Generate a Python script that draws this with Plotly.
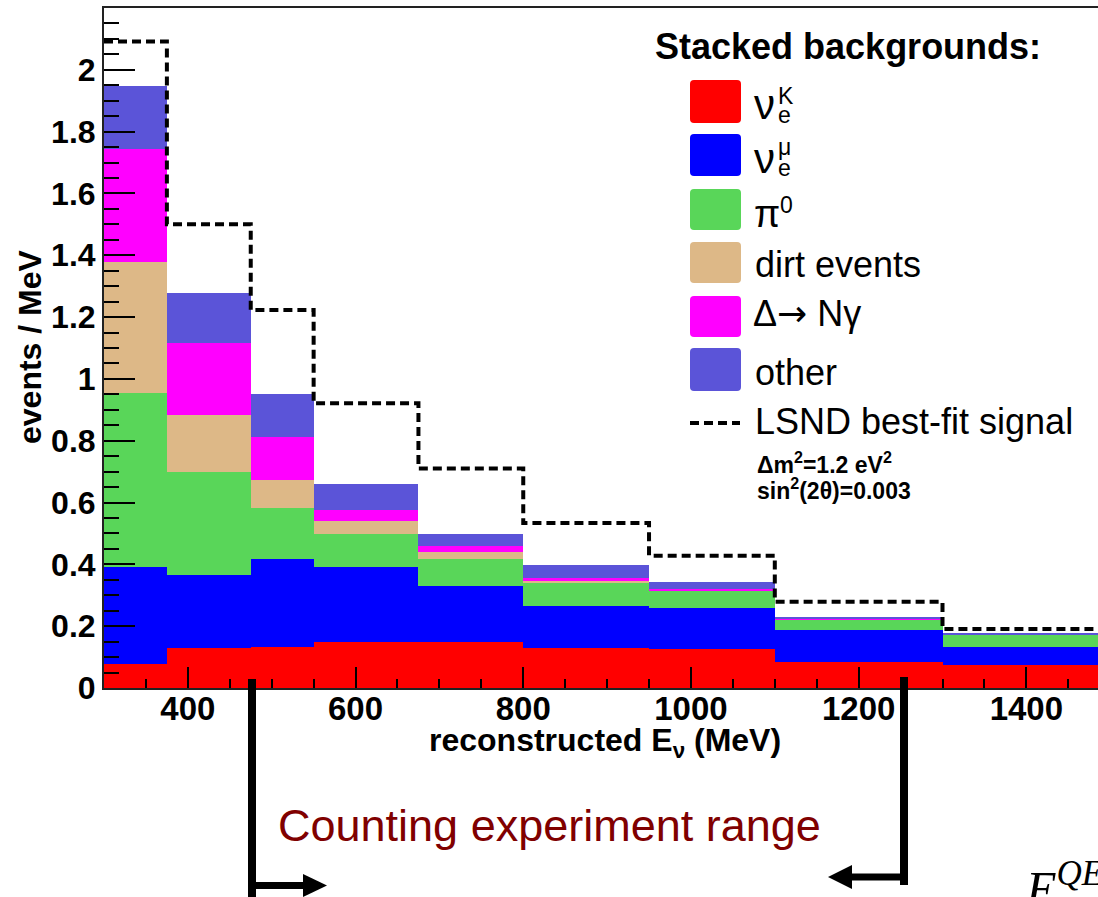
import plotly.graph_objects as go

# ---------------- data (events / MeV per bin) ----------------
bin_edges = [300, 375, 475, 550, 675, 800, 950, 1100, 1300, 1500]
nue_K      = [0.077, 0.128, 0.132, 0.150, 0.150, 0.131, 0.126, 0.084, 0.073]
nue_mu     = [0.313, 0.238, 0.285, 0.242, 0.181, 0.133, 0.133, 0.103, 0.061]
pi0        = [0.566, 0.334, 0.166, 0.105, 0.086, 0.076, 0.055, 0.036, 0.038]
dirt       = [0.423, 0.184, 0.090, 0.044, 0.022, 0.009, 0.002, 0.000, 0.000]
delta_ng   = [0.366, 0.231, 0.139, 0.036, 0.021, 0.006, 0.003, 0.002, 0.001]
other      = [0.203, 0.162, 0.138, 0.083, 0.039, 0.042, 0.023, 0.003, 0.004]
lsnd_total = [2.092, 1.500, 1.223, 0.921, 0.710, 0.534, 0.428, 0.279, 0.191]
y_tick_vals = [0, 0.2, 0.4, 0.6, 0.8, 1, 1.2, 1.4, 1.6, 1.8, 2]
x_tick_vals = [400, 600, 800, 1000, 1200, 1400]

series = [
    ("nue_K", nue_K, "#ff0000"),
    ("nue_mu", nue_mu, "#0000ff"),
    ("pi0", pi0, "#59d659"),
    ("dirt", dirt, "#ddb887"),
    ("delta", delta_ng, "#ff00ff"),
    ("other", other, "#5b54d8"),
]

centers = [(a + b) / 2 for a, b in zip(bin_edges[:-1], bin_edges[1:])]
widths = [b - a for a, b in zip(bin_edges[:-1], bin_edges[1:])]

# ---------------- figure geometry ----------------
W_FIG, H_FIG = 1098, 897
L, T = 104, 8
PW, PH = W_FIG - L, 680

def PX(px):
    return (px - L) / PW

def PY(py):
    return (T + PH - py) / PH

fig = go.Figure()
for name, vals, col in series:
    fig.add_trace(go.Bar(x=centers, y=vals, width=widths, name=name,
                         marker=dict(color=col, line=dict(width=0)),
                         showlegend=False, hoverinfo="skip"))

fig.add_trace(go.Scatter(x=bin_edges, y=lsnd_total + [lsnd_total[-1]],
                         mode="lines", line=dict(shape="hv", color="black", width=4, dash="9px,5px"),
                         showlegend=False, hoverinfo="skip"))

FONT = "Liberation Sans, Arial, Helvetica, sans-serif"

fig.update_layout(
    width=W_FIG, height=H_FIG,
    margin=dict(l=L, r=0, t=T, b=H_FIG - T - PH, pad=0),
    plot_bgcolor="white", paper_bgcolor="white",
    barmode="stack", bargap=0, showlegend=False,
    font=dict(family=FONT, color="black"),
)

fig.update_xaxes(
    range=[300, 300 + PW / 0.8385], showgrid=False, zeroline=False,
    showline=True, linecolor="#222222", linewidth=2, mirror=True,
    ticks="inside", ticklen=21, tickwidth=2, tickcolor="black",
    tickvals=x_tick_vals, ticktext=[str(v) for v in x_tick_vals],
    minor=dict(dtick=50, tick0=0, ticks="inside", ticklen=9, tickwidth=2, tickcolor="black"),
    tickfont=dict(family=FONT, size=33, color="black", weight="bold"),
    ticklabelstandoff=-10,
)
fig.update_yaxes(
    range=[0, 2.2], showgrid=False, zeroline=False,
    showline=True, linecolor="#222222", linewidth=2,
    ticks="inside", ticklen=31, tickwidth=2, tickcolor="black",
    tickvals=y_tick_vals, ticktext=[f"{v:g}" for v in y_tick_vals],
    minor=dict(dtick=0.05, tick0=0, ticks="inside", ticklen=15, tickwidth=2, tickcolor="black"),
    tickfont=dict(family=FONT, size=32, color="black", weight="bold"),
)

ann = []
def text(px, py, s, size, xanchor="left", yanchor="middle", color="black", bold=False,
         family=FONT, angle=0, italic=False):
    ann.append(dict(x=PX(px), y=PY(py), xref="paper", yref="paper", text=s,
                    showarrow=False, xanchor=xanchor, yanchor=yanchor, textangle=angle,
                    font=dict(size=size, color=color, family=family,
                              weight="bold" if bold else "normal",
                              style="italic" if italic else "normal")))

# axis titles
text(30, 347, "events / MeV", 32, xanchor="center", bold=True, angle=-90)
text(605, 742, "reconstructed E<sub>ν</sub> (MeV)", 32, xanchor="center", bold=True)

# legend
shapes = []
def swatch(y0, y1, col, x0=690, x1=741, r=4):
    x0p, x1p = PX(x0), PX(x1)
    y0p, y1p = PY(y0), PY(y1)
    rx, ry = r / PW, r / PH
    path = (f"M{x0p+rx},{y0p} L{x1p-rx},{y0p} Q{x1p},{y0p} {x1p},{y0p-ry} "
            f"L{x1p},{y1p+ry} Q{x1p},{y1p} {x1p-rx},{y1p} L{x0p+rx},{y1p} "
            f"Q{x0p},{y1p} {x0p},{y1p+ry} L{x0p},{y0p-ry} Q{x0p},{y0p} {x0p+rx},{y0p} Z")
    shapes.append(dict(type="path", path=path, xref="paper", yref="paper",
                       fillcolor=col, line=dict(width=0)))

swatch(80, 123, "#ff0000")
swatch(134, 176, "#0000ff")
swatch(189, 230, "#59d659")
swatch(242, 283, "#ddb887")
swatch(296, 337, "#ff00ff")
swatch(348, 391, "#5b54d8")
shapes.append(dict(type="line", xref="paper", yref="paper", x0=PX(690), x1=PX(740),
                   y0=PY(423), y1=PY(423), line=dict(color="black", width=4, dash="9px,5px")))

text(653, 46, "Stacked backgrounds:", 36, bold=True)
text(752, 104, "ν", 42)
text(776, 96, "K", 23)
text(776, 115, "e", 23)
text(752, 158, "ν", 42)
text(776, 147, "μ", 23)
text(776, 168, "e", 23)
text(752, 214, "π", 38)
text(778, 205, "0", 23)
text(753, 264, "dirt events", 36)
text(751, 314, "Δ<span style='font-family:DejaVu Sans'>→</span> Nγ", 36)
text(753, 372, "other", 36)
text(753, 421, "LSND best-fit signal", 36)
text(755, 463, "Δm<sup>2</sup>=1.2 eV<sup>2</sup>", 23, bold=True)
text(755, 489, "sin<sup>2</sup>(2θ)=0.003", 23, bold=True)

# counting experiment range
text(549, 825, "Counting experiment range", 45, xanchor="center", color="#800000")

# brackets with arrows
shapes.append(dict(type="rect", xref="paper", yref="paper", x0=PX(248), x1=PX(256),
                   y0=PY(679), y1=PY(900), fillcolor="black", line=dict(width=0)))
shapes.append(dict(type="rect", xref="paper", yref="paper", x0=PX(252), x1=PX(305),
                   y0=PY(882), y1=PY(889), fillcolor="black", line=dict(width=0)))
shapes.append(dict(type="path", xref="paper", yref="paper",
                   path=f"M{PX(303)},{PY(874)} L{PX(327)},{PY(885.5)} L{PX(303)},{PY(897)} Z",
                   fillcolor="black", line=dict(width=0)))
shapes.append(dict(type="rect", xref="paper", yref="paper", x0=PX(900), x1=PX(908),
                   y0=PY(677), y1=PY(885), fillcolor="black", line=dict(width=0)))
shapes.append(dict(type="rect", xref="paper", yref="paper", x0=PX(850), x1=PX(904),
                   y0=PY(873.5), y1=PY(880.5), fillcolor="black", line=dict(width=0)))
shapes.append(dict(type="path", xref="paper", yref="paper",
                   path=f"M{PX(852)},{PY(865)} L{PX(828)},{PY(877)} L{PX(852)},{PY(889)} Z",
                   fillcolor="black", line=dict(width=0)))

# cut-off formula at the bottom right
text(1023, 852, "E<sup>QE</sup>", 50, yanchor="top",
     family="Liberation Serif, Times New Roman, serif", italic=True)

fig.update_layout(annotations=ann, shapes=shapes)
fig.write_html("out.html")
